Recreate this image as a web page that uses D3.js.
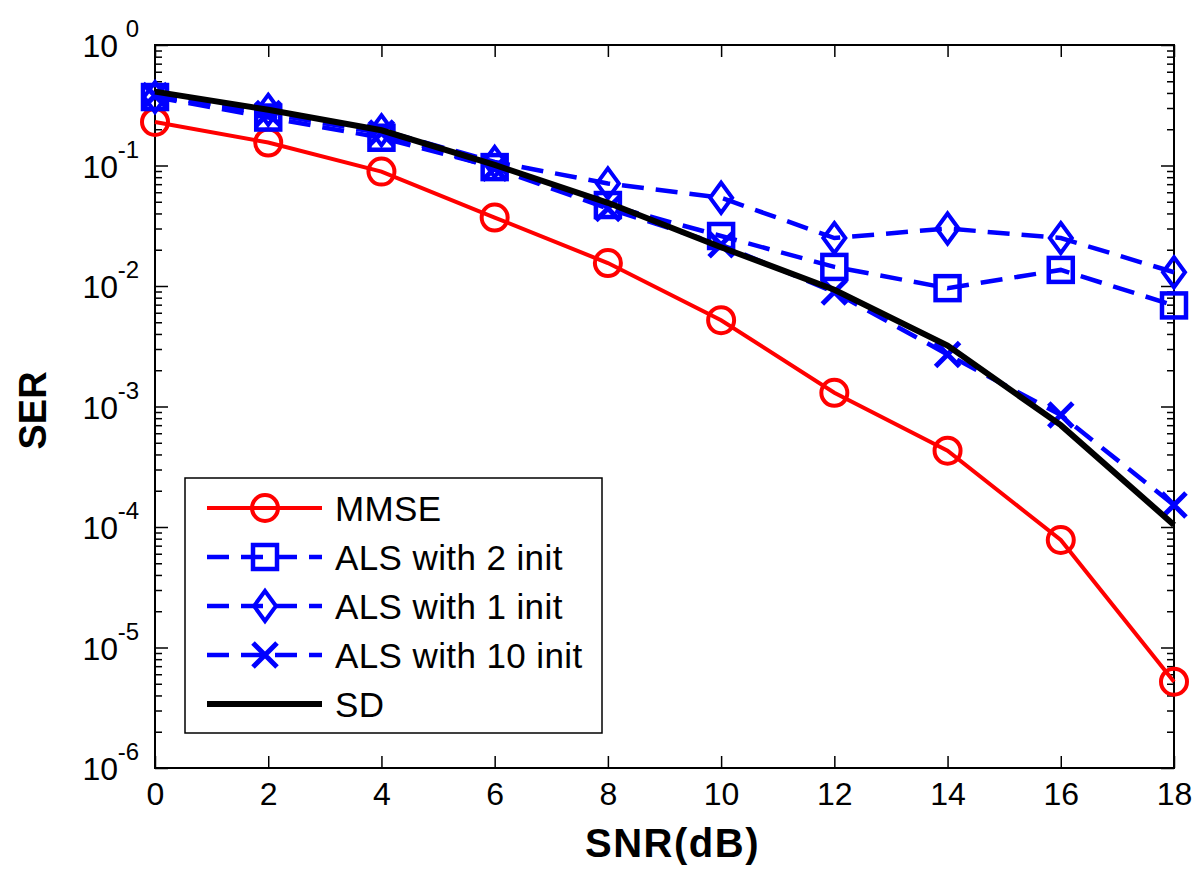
<!DOCTYPE html>
<html>
<head>
<meta charset="utf-8">
<script src="https://cdn.jsdelivr.net/npm/d3@7"></script>
<style>
  body { margin: 0; background: #fff; }
  svg { font-family: "Liberation Sans", Arial, sans-serif; }
</style>
</head>
<body>
<svg id="chart" width="1199" height="876"></svg>
<script>
// data
var snr = [0, 2, 4, 6, 8, 10, 12, 14, 16, 18];
var mmse = [0.23, 0.155, 0.089, 0.037, 0.0155, 0.0052, 0.0013, 0.00043, 7.8e-5, 5.2e-6];
var als2 = [0.37, 0.25, 0.17, 0.097, 0.047, 0.026, 0.0144, 0.0096, 0.0136, 0.0069];
var als1 = [0.37, 0.29, 0.196, 0.107, 0.071, 0.054, 0.025, 0.030, 0.025, 0.013];
var als10 = [0.38, 0.27, 0.186, 0.095, 0.044, 0.022, 0.0089, 0.0027, 0.00085, 0.000152];
var sd = [0.41, 0.29, 0.196, 0.101, 0.049, 0.021, 0.0093, 0.0032, 0.0007, 0.000104];

var xTicks = [0, 2, 4, 6, 8, 10, 12, 14, 16, 18];
var yExps = [0, -1, -2, -3, -4, -5, -6];
var legendNames = ['MMSE', 'ALS with 2 init', 'ALS with 1 init', 'ALS with 10 init', 'SD'];

var svg = d3.select('#chart');
var m = {left: 155, top: 45, right: 25, bottom: 108};
var W = 1199 - m.left - m.right, H = 876 - m.top - m.bottom;

var x = d3.scaleLinear().domain([0, 18]).range([0, W]);
var y = d3.scaleLog().domain([1e-6, 1]).range([H, 0]);

var g = svg.append('g').attr('transform', 'translate(' + m.left + ',' + m.top + ')');

// minor ticks for log axis
var minor = [];
yExps.slice(1).forEach(function (e) {
  for (var k = 2; k <= 9; k++) minor.push(k * Math.pow(10, e));
});

function styleAxis(sel) {
  sel.select('.domain').remove();
  sel.selectAll('line').attr('stroke', '#000').attr('stroke-width', 1.5);
}

// bottom
g.append('g').attr('transform', 'translate(0,' + H + ')')
  .call(d3.axisBottom(x).tickValues(xTicks).tickSize(-12).tickPadding(14).tickFormat(d3.format('d')))
  .call(styleAxis)
  .selectAll('text').attr('font-size', 32).attr('fill', '#000').attr('font-family', 'Liberation Sans');
// top
g.append('g')
  .call(d3.axisTop(x).tickValues(xTicks).tickSize(-12).tickFormat(''))
  .call(styleAxis);

// left major
var left = g.append('g')
  .call(d3.axisLeft(y).tickValues(yExps.map(function (e) { return Math.pow(10, e); })).tickSize(-13).tickFormat(''))
  .call(styleAxis);
left.selectAll('.tick').each(function (d) {
  var t = d3.select(this).append('text')
    .attr('fill', '#000').attr('font-family', 'Liberation Sans')
    .attr('text-anchor', 'end');
  t.append('tspan').attr('x', -37).attr('dy', '0.36em').attr('font-size', 32).text('10');
  t.append('tspan').attr('x', -16).attr('dy', -20).attr('font-size', 24).text(Math.round(Math.log10(d)));
});
g.append('g')
  .call(d3.axisLeft(y).tickValues(minor).tickSize(-7).tickFormat(''))
  .call(styleAxis);
// right
g.append('g').attr('transform', 'translate(' + W + ',0)')
  .call(d3.axisRight(y).tickValues(yExps.map(function (e) { return Math.pow(10, e); })).tickSize(-13).tickFormat(''))
  .call(styleAxis);
g.append('g').attr('transform', 'translate(' + W + ',0)')
  .call(d3.axisRight(y).tickValues(minor).tickSize(-7).tickFormat(''))
  .call(styleAxis);

// box
g.append('rect').attr('width', W).attr('height', H)
  .attr('fill', 'none').attr('stroke', '#000').attr('stroke-width', 2);

// series
var series = [
  {vals: mmse, color: '#ff0000', dash: null, width: 4, marker: 'circle'},
  {vals: als2, color: '#0000ff', dash: '22,12', width: 4.5, marker: 'square'},
  {vals: als1, color: '#0000ff', dash: '22,12', width: 4.5, marker: 'diamond'},
  {vals: als10, color: '#0000ff', dash: '22,12', width: 4.5, marker: 'cross'},
  {vals: sd, color: '#000000', dash: null, width: 6, marker: null}
];

var line = d3.line().x(function (d) { return x(d[0]); }).y(function (d) { return y(d[1]); });

function drawMarker(sel, type, color) {
  if (type === 'circle') {
    sel.append('circle').attr('r', 13).attr('fill', 'none').attr('stroke', color).attr('stroke-width', 4);
  } else if (type === 'square') {
    sel.append('rect').attr('x', -12).attr('y', -12).attr('width', 24).attr('height', 24)
      .attr('fill', 'none').attr('stroke', color).attr('stroke-width', 4.5);
  } else if (type === 'diamond') {
    sel.append('path').attr('d', 'M0,-15L11,0L0,15L-11,0Z')
      .attr('fill', 'none').attr('stroke', color).attr('stroke-width', 4);
  } else if (type === 'cross') {
    sel.append('path').attr('d', 'M-12,-12L12,12M-12,12L12,-12')
      .attr('fill', 'none').attr('stroke', color).attr('stroke-width', 5);
  }
}

series.forEach(function (s) {
  var pts = snr.map(function (v, i) { return [v, s.vals[i]]; });
  g.append('path').datum(pts).attr('d', line)
    .attr('fill', 'none').attr('stroke', s.color).attr('stroke-width', s.width)
    .attr('stroke-dasharray', s.dash);
  if (s.marker) {
    g.selectAll(null).data(pts).enter().append('g')
      .attr('transform', function (d) { return 'translate(' + x(d[0]) + ',' + y(d[1]) + ')'; })
      .each(function () { drawMarker(d3.select(this), s.marker, s.color); });
  }
});

// legend
var lg = svg.append('g').attr('transform', 'translate(185,478)');
lg.append('rect').attr('width', 417).attr('height', 255)
  .attr('fill', '#fff').attr('stroke', '#000').attr('stroke-width', 1.5);
series.forEach(function (s, i) {
  var row = lg.append('g').attr('transform', 'translate(0,' + (30 + i * 49) + ')');
  row.append('line').attr('x1', 22).attr('x2', 137)
    .attr('stroke', s.color).attr('stroke-width', s.width).attr('stroke-dasharray', s.dash);
  if (s.marker) drawMarker(row.append('g').attr('transform', 'translate(80,0)'), s.marker, s.color);
  row.append('text').attr('x', 150).attr('dy', '0.36em').attr('font-size', 35)
    .attr('letter-spacing', 0.4).attr('fill', '#000').text(legendNames[i]);
});

// axis titles
svg.append('text').attr('x', m.left + W / 2 + 8).attr('y', 857)
  .attr('text-anchor', 'middle').attr('font-size', 40).attr('font-weight', 'bold')
  .attr('letter-spacing', 1.5).text('SNR(dB)');
svg.append('text').attr('transform', 'translate(46,' + (m.top + H / 2 + 4) + ') rotate(-90)')
  .attr('text-anchor', 'middle').attr('font-size', 38).attr('font-weight', 'bold').text('SER');
</script>
</body>
</html>
